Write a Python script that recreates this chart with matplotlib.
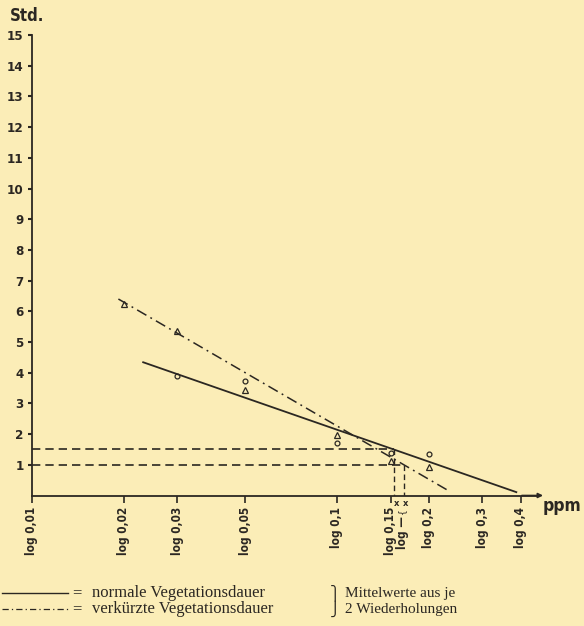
import matplotlib
matplotlib.use("Agg")
import matplotlib.pyplot as plt
from matplotlib.lines import Line2D
from matplotlib.ticker import FixedLocator, NullLocator, FixedFormatter

# ---------------- data ----------------
x_ticks = [0.01, 0.02, 0.03, 0.05, 0.1, 0.15, 0.2, 0.3, 0.4]
x_tick_labels = ["log 0,01", "log 0,02", "log 0,03", "log 0,05", "log 0,1",
                 "log 0,15", "log 0,2", "log 0,3", "log 0,4"]
y_ticks = list(range(1, 16))

# mean values (circles / triangles)
conc_circle = [0.03, 0.05, 0.1, 0.15, 0.2]
std_circle = [3.9, 3.72, 1.72, 1.39, 1.36]
conc_triangle = [0.02, 0.03, 0.05, 0.1, 0.15, 0.2]
std_triangle = [6.25, 5.36, 3.43, 1.98, 1.13, 0.93]

# regression lines
normal_x = [0.023, 0.39]
normal_y = [4.35, 0.10]
short_x = [0.0192, 0.23]
short_y = [6.40, 0.18]

# reading lines (threshold levels and corresponding concentrations)
level_y = [1.5, 1.0]
level_x = [0.154, 0.166]

# ---------------- style ----------------
BG = "#fbedb7"
INK = "#2b2722"
SANS = ["DejaVu Sans"]
SERIF = ["Liberation Serif", "DejaVu Serif"]
STRETCH = "condensed"

fig = plt.figure(figsize=(5.84, 6.26), dpi=100, facecolor=BG)
W, H = 584, 626
ax = fig.add_axes([32 / W, 130.5 / H, (537 - 32) / W, (591 - 130.5) / H])
ax.set_facecolor(BG)
ax.set_xscale("log")
ax.set_xlim(0.01, 0.453)
ax.set_ylim(0, 15)

for s in ["top", "right"]:
    ax.spines[s].set_visible(False)
for s in ["left", "bottom"]:
    ax.spines[s].set_color(INK)
    ax.spines[s].set_linewidth(1.3)

ax.xaxis.set_major_locator(FixedLocator(x_ticks))
ax.xaxis.set_major_formatter(FixedFormatter(x_tick_labels))
ax.xaxis.set_minor_locator(NullLocator())
ax.yaxis.set_major_locator(FixedLocator(y_ticks))
ax.tick_params(axis="x", direction="out", length=5, width=1.2, color=INK,
               pad=3, labelrotation=90, labelsize=8.5, labelcolor=INK)
ax.tick_params(axis="y", direction="out", length=3, width=1.5, color=INK,
               pad=3, labelsize=9.5, labelcolor=INK)
for lab in ax.get_xticklabels() + ax.get_yticklabels():
    lab.set_fontfamily(SANS)
    lab.set_fontweight("bold")
    lab.set_fontstretch(STRETCH)

# regression lines
ax.plot(normal_x, normal_y, color=INK, lw=1.3, solid_capstyle="butt")
ax.plot(short_x, short_y, color=INK, lw=1.1, dashes=(7, 3, 1.2, 3))

# reading lines
for lx, ly in zip(level_x, level_y):
    ax.plot([0.01, lx], [ly, ly], color=INK, lw=1.2, dashes=(5, 3))
    ax.plot([lx, lx], [ly, 0], color=INK, lw=1.0, dashes=(4, 2.5))

# data points
ax.plot(conc_circle, std_circle, linestyle="none", marker="o", ms=3.5,
        mfc="none", mec=INK, mew=0.9)
ax.plot(conc_triangle, std_triangle, linestyle="none", marker="^", ms=5,
        mfc="none", mec=INK, mew=0.9)

# arrow at the end of the x axis
ax.annotate("", xy=(1.012, 0), xycoords="axes fraction", xytext=(0.97, 0),
            arrowprops=dict(arrowstyle="-|>", color=INK, lw=1.2,
                            mutation_scale=7, shrinkA=0, shrinkB=0),
            annotation_clip=False)

# x marks, brace and label for the read-off concentrations
xtr = ax.get_xaxis_transform()
for lx, dx in zip(level_x, (2.0, 0.8)):
    ax.annotate("x", xy=(lx, 0), xycoords=xtr, xytext=(dx, -2.5),
                textcoords="offset points", ha="center", va="top",
                fontsize=6, fontweight="bold", family=SANS, color=INK,
                annotation_clip=False)
xm = (level_x[0] * level_x[1]) ** 0.5
ax.annotate("{", xy=(xm, 0), xycoords=xtr, xytext=(1.8, -9),
            textcoords="offset points", rotation=90, ha="center", va="top",
            fontsize=6.5, family=SANS, color=INK, annotation_clip=False)
ax.annotate("log —", xy=(xm, 0), xycoords=xtr, xytext=(2.3, -15),
            textcoords="offset points", rotation=90, ha="center", va="top",
            fontsize=8.5, fontweight="bold", family=SANS, fontstretch=STRETCH,
            color=INK, annotation_clip=False)

# axis titles
fig.text(10 / W, 1 - 16 / H, "Std.", fontsize=12, fontweight="bold",
         family=SANS, fontstretch=STRETCH, color=INK, ha="left", va="center")
fig.text(543 / W, 1 - 506 / H, "ppm", fontsize=12.5, fontweight="bold",
         family=SANS, fontstretch=STRETCH, color=INK, ha="left", va="center")

# legend at the bottom
y1, y2 = 1 - 593 / H, 1 - 609 / H
fig.add_artist(Line2D([2 / W, 68 / W], [y1, y1], color=INK, lw=1.0,
                      transform=fig.transFigure))
fig.add_artist(Line2D([2 / W, 68 / W], [y2, y2], color=INK, lw=0.9,
                      dashes=(5, 2.5, 1, 2.5), transform=fig.transFigure))
for yy in (y1, y2):
    fig.text(72 / W, yy, "=", fontsize=12, family=SERIF, color=INK,
             ha="left", va="center")
fig.text(92 / W, y1, "normale Vegetationsdauer", fontsize=12,
         family=SERIF, color=INK, ha="left", va="center")
fig.text(92 / W, y2, "verkürzte Vegetationsdauer", fontsize=12,
         family=SERIF, color=INK, ha="left", va="center")
fig.text(330 / W, y1, "⎫", fontsize=10, family=SERIF + ["DejaVu Sans"],
         color=INK, ha="left", va="center")
fig.text(330 / W, y2, "⎭", fontsize=10, family=SERIF + ["DejaVu Sans"],
         color=INK, ha="left", va="center")
fig.text(345 / W, y1, "Mittelwerte aus je", fontsize=11,
         family=SERIF, color=INK, ha="left", va="center")
fig.text(345 / W, y2, "2 Wiederholungen", fontsize=11,
         family=SERIF, color=INK, ha="left", va="center")

fig.savefig("out.png", dpi=100, facecolor=BG)
